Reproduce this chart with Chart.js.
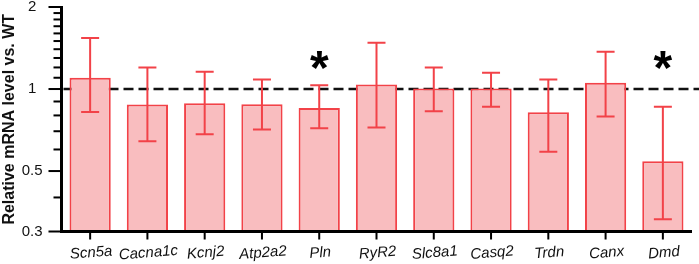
<!DOCTYPE html>
<html>
<head>
<meta charset="utf-8">
<script src="https://cdn.jsdelivr.net/npm/chart.js@4"></script>
<style>
    html, body { margin: 0; padding: 0; background: #fff; }
    #wrap { width: 699px; height: 264px; position: relative; }
</style>
</head>
<body>
<div id="wrap"><canvas id="graficoMrna"></canvas></div>
<script>
const genes = ["Scn5a", "Cacna1c", "Kcnj2", "Atp2a2", "Pln", "RyR2", "Slc8a1", "Casq2", "Trdn", "Canx", "Dmd"];
const medias = [1.10, 0.877, 0.887, 0.88, 0.852, 1.04, 1.005, 1.005, 0.822, 1.054, 0.543];
const errorAlto = [1.54, 1.20, 1.156, 1.084, 1.033, 1.478, 1.20, 1.147, 1.084, 1.37, 0.86];
const errorBajo = [0.824, 0.643, 0.682, 0.71, 0.718, 0.722, 0.829, 0.86, 0.589, 0.792, 0.333];
const asteriscos = ["", "", "", "", "*", "", "", "", "", "", "*"];
const ticksMayores = [0.3, 0.5, 1, 2];
const ticksMenores = [0.4, 0.6, 0.7, 0.8, 0.9, 1.1, 1.2, 1.3, 1.4, 1.5, 1.6, 1.7, 1.8, 1.9];
const referencia = 1;

const rojo = "rgb(242, 66, 72)";
const rosa = "rgb(249, 189, 191)";
const fuente = "'Liberation Sans', Arial, sans-serif";

// linea punteada en 1 (debajo de las barras)
const lineaReferencia = {
    id: "lineaReferencia",
    beforeDatasetsDraw(chart) {
        const { ctx, chartArea, scales } = chart;
        const y = scales.y.getPixelForValue(referencia);
        ctx.save();
        ctx.strokeStyle = "#111";
        ctx.lineWidth = 2.5;
        ctx.setLineDash([10, 5]);
        ctx.beginPath();
        ctx.moveTo(chartArea.left + 2, y);
        ctx.lineTo(chart.width, y);
        ctx.stroke();
        ctx.restore();
    },
};

// barras de error y asteriscos
const barrasError = {
    id: "barrasError",
    afterDatasetsDraw(chart) {
        const { ctx, scales } = chart;
        const meta = chart.getDatasetMeta(0);
        ctx.save();
        ctx.strokeStyle = rojo;
        ctx.lineWidth = 2;
        meta.data.forEach((barra, i) => {
            const yAlto = scales.y.getPixelForValue(errorAlto[i]);
            const yBajo = scales.y.getPixelForValue(errorBajo[i]);
            const x = barra.x;
            ctx.beginPath();
            ctx.moveTo(x, yAlto);
            ctx.lineTo(x, yBajo);
            ctx.moveTo(x - 9, yAlto);
            ctx.lineTo(x + 9, yAlto);
            ctx.moveTo(x - 9, yBajo);
            ctx.lineTo(x + 9, yBajo);
            ctx.stroke();
        });
        ctx.fillStyle = "#000";
        ctx.font = "bold 48px " + fuente;
        ctx.textAlign = "center";
        ctx.textBaseline = "alphabetic";
        const yEstrella = scales.y.getPixelForValue(1.28);
        meta.data.forEach((barra, i) => {
            if (!asteriscos[i]) return;
            const m = ctx.measureText(asteriscos[i]);
            const base = yEstrella + (m.actualBoundingBoxAscent - m.actualBoundingBoxDescent) / 2;
            ctx.fillText(asteriscos[i], barra.x, base);
        });
        ctx.restore();
    },
};

// marcas de los ejes y etiquetas inclinadas del eje x
const ejesExtra = {
    id: "ejesExtra",
    afterDraw(chart) {
        const { ctx, chartArea, scales } = chart;
        const izq = chartArea.left;
        const abajo = chartArea.bottom;
        ctx.save();
        ctx.fillStyle = "#000";
        ticksMenores.forEach((v) => {
            const y = scales.y.getPixelForValue(v);
            ctx.fillRect(izq - 8, y - 1, 9, 2);
        });
        ticksMayores.forEach((v) => {
            const y = scales.y.getPixelForValue(v);
            ctx.fillRect(izq - 13, y - 1, 14, 2);
        });
        genes.forEach((g, i) => {
            const x = scales.x.getPixelForValue(i);
            ctx.fillRect(x - 1, abajo, 2, 8);
        });

        ctx.fillStyle = "#111";
        ctx.font = "italic 15px " + fuente;
        ctx.textAlign = "center";
        ctx.textBaseline = "middle";
        genes.forEach((g, i) => {
            const x = scales.x.getPixelForValue(i);
            ctx.save();
            ctx.translate(x + 1, 253);
            ctx.rotate(-0.08);
            ctx.fillText(g, 0, 0);
            ctx.restore();
        });
        ctx.restore();
    },
};

const dataGrafico = {
    labels: genes,
    datasets: [
        {
            label: "Relative mRNA",
            data: medias,
            backgroundColor: rosa,
            borderColor: rojo,
            borderWidth: 2,
            categoryPercentage: 1,
            barPercentage: 0.72,
        },
    ],
};

const configGrafico = {
    type: "bar",
    data: dataGrafico,
    options: {
        responsive: true,
        maintainAspectRatio: false,
        animation: false,
        layout: {
            padding: { left: 0, right: 7.5, top: 0, bottom: 0 },
        },
        plugins: {
            legend: { display: false },
            tooltip: { enabled: false },
        },
        scales: {
            x: {
                offset: true,
                border: { color: "#000", width: 3, z: 1 },
                grid: { display: false },
                ticks: { display: false },
                afterFit: (scale) => {
                    scale.height = 32.5;
                    scale.paddingLeft = 0;
                    scale.paddingRight = 0;
                },
            },
            y: {
                type: "logarithmic",
                min: 0.3,
                max: 2,
                border: { color: "#000", width: 3, z: 1 },
                grid: { display: false },
                afterBuildTicks: (scale) => {
                    scale.ticks = ticksMayores.map((v) => ({ value: v }));
                },
                ticks: {
                    autoSkip: false,
                    padding: 11,
                    crossAlign: "center",
                    color: "#111",
                    font: { size: 15, family: fuente },
                    callback: (v) => String(v),
                },
                title: {
                    display: true,
                    text: "Relative mRNA level vs. WT",
                    color: "#111",
                    padding: 0,
                    font: { size: 16, weight: "bold", family: fuente },
                },
                afterFit: (scale) => {
                    scale.width = 61.5;
                    scale.paddingTop = 7;
                    scale.paddingBottom = 0;
                },
            },
        },
    },
    plugins: [lineaReferencia, barrasError, ejesExtra],
};

const chartMrna = new Chart(document.getElementById("graficoMrna"), configGrafico);
</script>
</body>
</html>
